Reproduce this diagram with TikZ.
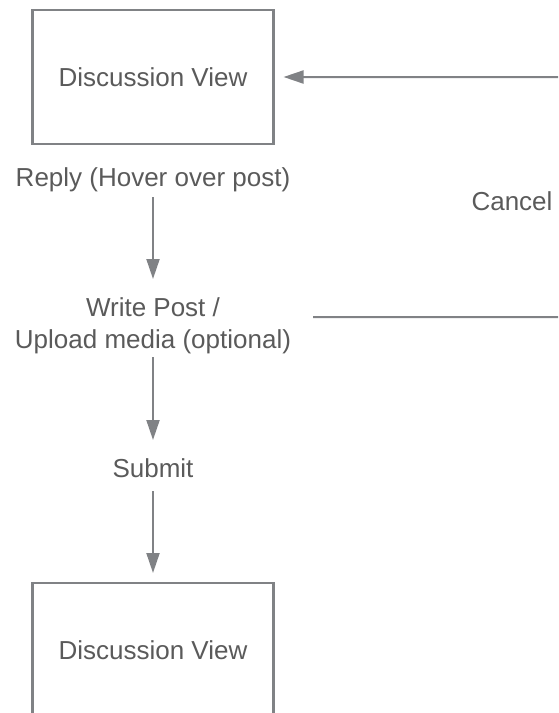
\documentclass[tikz,border=0pt]{standalone}
\usepackage{fontspec}
\setmainfont{Liberation Sans}
\usetikzlibrary{arrows.meta}
\definecolor{edgegray}{HTML}{808285}
\definecolor{labelgray}{HTML}{5A5A5A}
\begin{document}
\begin{tikzpicture}[x=1pt,y=-1pt,
  every node/.style={font=\fontsize{26}{32}\selectfont, text=labelgray, inner sep=0pt},
  screen/.style={draw=edgegray, line width=2.6pt, outer sep=0pt,
                 minimum width=241pt, minimum height=134pt},
  flow/.style={draw=edgegray, line width=2pt, -{Triangle[length=20pt,width=13pt]}},
  caption/.style={anchor=base},
]
\useasboundingbox (0,0) rectangle (558,713);
\clip (0,0) rectangle (558,713);

% screens and actions
\node[screen] (top) at (153,77) {Discussion View};
\node[caption] (reply) at (153,186) {Reply (Hover over post)};
\node[anchor=north, align=center] (write) at (153,297) {Write Post /\\Upload media (optional)};
\node[caption] (submit) at (153,477) {Submit};
\node[screen] (bottom) at (153,650) {Discussion View};
\node[caption] (cancel) at (512,210) {Cancel};
\coordinate (loop) at (600,317);

% main flow
\draw[flow] ([yshift=-11pt]reply.base) -- ([yshift=18pt]write.north);
\draw[flow] ([yshift=-3.5pt]write.south) -- ([yshift=37pt]submit.base);
\draw[flow] ([yshift=-14pt]submit.base) -- ([yshift=10pt]bottom.north);

% cancel: back to the discussion view
\draw[flow] ([shift={(22pt,8.3pt)}]write.east) -- (loop) |- ([xshift=10pt]top.east);
\end{tikzpicture}
\end{document}
